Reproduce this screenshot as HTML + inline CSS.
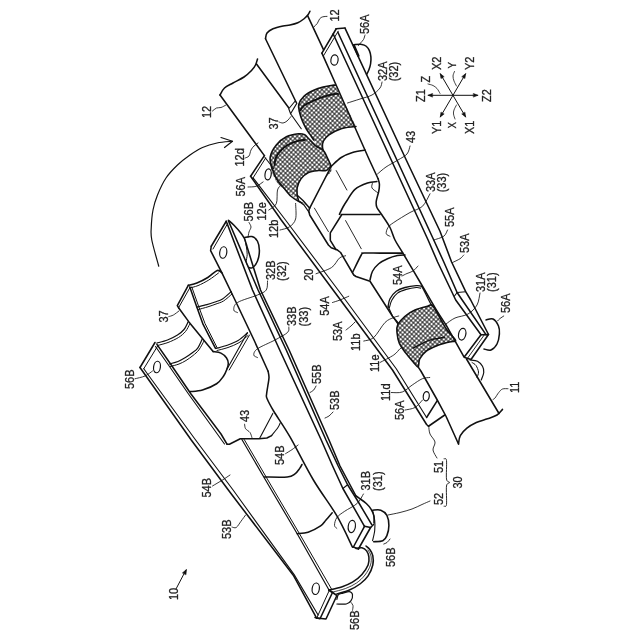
<!DOCTYPE html>
<html><head><meta charset="utf-8"><style>
html,body{margin:0;padding:0;background:#fff;width:640px;height:640px;overflow:hidden}
svg{display:block;filter:grayscale(1)}
text{font-family:"Liberation Sans",sans-serif;fill:#222;stroke:#222;stroke-width:0.3px}
</style></head><body>
<svg width="640" height="640" viewBox="0 0 640 640">
<defs>
<pattern id="mesh" patternUnits="userSpaceOnUse" width="3.2" height="3.2" patternTransform="rotate(42)">
<rect width="3.2" height="3.2" fill="#fff"/>
<path d="M0,1.6 H3.2 M1.6,0 V3.2" stroke="#000" stroke-width="0.8" fill="none"/>
</pattern>
</defs>
<g fill="none" stroke="#111" stroke-linejoin="round" stroke-linecap="round">
<path d="M158.75,266.25 C157.59,261.88 153.05,246.46 151.8,240 C150.55,233.54 151.05,232.5 151.25,227.5 C151.45,222.5 151.96,215.42 153,210 C154.04,204.58 155.33,200.33 157.5,195 C159.67,189.67 162.67,183 166,178 C169.33,173 173.5,168.83 177.5,165 C181.5,161.17 185.83,157.92 190,155 C194.17,152.08 198,149.5 202.5,147.5 C207,145.5 212,144.04 217,143 C222,141.96 229.92,141.54 232.5,141.25" stroke-width="1.2"/>
<polyline points="221,137.5 232.5,141.25 224.5,147.5" stroke-width="1.2"/>
<polyline points="428.1,95.3 477.8,95.3" stroke-width="1"/>
<polyline points="440.3,73.75 465.6,116.9" stroke-width="1"/>
<polyline points="465.6,73.75 440.3,116.9" stroke-width="1"/>
<polygon points="432.27,96.99 428.1,95.3 432.27,93.61" stroke-width="0.6" fill="#111"/>
<polygon points="473.63,93.61 477.8,95.3 473.63,96.99" stroke-width="0.6" fill="#111"/>
<polygon points="440.95,78.2 440.3,73.75 443.86,76.5" stroke-width="0.6" fill="#111"/>
<polygon points="464.94,112.45 465.6,116.9 462.03,114.16" stroke-width="0.6" fill="#111"/>
<polygon points="462.03,76.49 465.6,73.75 464.93,78.2" stroke-width="0.6" fill="#111"/>
<polygon points="443.86,114.15 440.3,116.9 440.95,112.45" stroke-width="0.6" fill="#111"/>
<path d="M428,84 C428.83,84.25 431.5,84.75 433,85.5 C434.5,86.25 435.83,87.18 437,88.5 C438.17,89.82 439.5,92.58 440,93.4" stroke-width="0.8"/>
<path d="M454.5,71.5 C454.25,72.25 453.08,74.42 453,76 C452.92,77.58 453.42,79.33 454,81 C454.58,82.67 456.08,85.17 456.5,86" stroke-width="0.8"/>
<path d="M456.5,105 C456.08,105.83 454.5,108.5 454,110 C453.5,111.5 453.33,112.5 453.5,114 C453.67,115.5 454.75,118.17 455,119" stroke-width="0.8"/>
<path d="M265.5,38.75 C265.75,37.79 265.75,34.66 267,33 C268.25,31.34 270.33,29.97 273,28.8 C275.67,27.63 280.17,26.63 283,26 C285.83,25.37 287.53,25.55 290,25 C292.47,24.45 295.45,23.74 297.8,22.7 C300.15,21.66 302.4,20.07 304.1,18.75 C305.8,17.43 307.03,16.04 308,14.8 C308.97,13.56 309.58,11.88 309.9,11.3" stroke-width="1.55"/>
<polyline points="265.5,38.75 296.25,102.5" stroke-width="1.55"/>
<polyline points="307.6,15.6 323.6,49.8" stroke-width="1.55"/>
<path d="M220,95 C220.75,93.83 222.33,90 224.5,88 C226.67,86 229.75,84.83 233,83 C236.25,81.17 240.92,79.08 244,77 C247.08,74.92 249.58,72.5 251.5,70.5 C253.42,68.5 254.5,66.92 255.5,65 C256.5,63.08 257.17,60 257.5,59" stroke-width="1.55"/>
<polyline points="220,95 264.4,155.6" stroke-width="1.55"/>
<polyline points="256.5,64 289.4,108.75" stroke-width="1.55"/>
<polygon points="288.75,108.75 295,101.25 296.9,103.1 290.6,113.75" stroke-width="1.1" fill="#fff"/>
<polyline points="290.6,113.75 301.25,128.75" stroke-width="1.1"/>
<polygon points="335.3,85.2 332.5,85.2 323.1,87 313.75,90.3 304.4,95.9 298.75,104.4 299.7,112.8 302.5,121.25 306.25,128.75 310,134.4 313.75,140 318,148 324,153 323.5,141 329,134.8 341.2,128.7 353.4,126.7 356,126.5 347,108 340,95" stroke-width="1.3" fill="url(#mesh)" stroke="none"/>
<path d="M335.3,85.2 C334.83,85.2 334.53,84.9 332.5,85.2 C330.47,85.5 326.23,86.15 323.1,87 C319.98,87.85 316.87,88.82 313.75,90.3 C310.63,91.78 306.9,93.55 304.4,95.9 C301.9,98.25 299.53,101.58 298.75,104.4 C297.97,107.22 299.07,109.99 299.7,112.8 C300.32,115.61 301.41,118.59 302.5,121.25 C303.59,123.91 305,126.56 306.25,128.75 C307.5,130.94 308.75,132.53 310,134.4 C311.25,136.28 313.12,139.07 313.75,140" stroke-width="1.6"/>
<path d="M299.7,111 C300.48,110.05 302.06,107.03 304.4,105.3 C306.74,103.57 310.63,102 313.75,100.6 C316.87,99.2 319.66,98 323.1,96.9 C326.54,95.8 331.9,94.48 334.4,94 C336.9,93.52 337.48,94 338.1,94" stroke-width="1.9"/>
<polygon points="353.4,126.7 341.2,128.7 329,134.8 323.5,141 322.5,147 324.5,155 328,162 331.25,166.25 341.25,157.5 352.5,152.5 365,150 369.4,160 356,127" stroke-width="1.3" fill="#fff" stroke="none"/>
<path d="M356,126.5 C355.57,126.53 355.87,126.33 353.4,126.7 C350.93,127.07 345.27,127.35 341.2,128.7 C337.13,130.05 331.95,132.75 329,134.8 C326.05,136.85 324.58,138.97 323.5,141 C322.42,143.03 322.33,144.67 322.5,147 C322.67,149.33 323.58,152.5 324.5,155 C325.42,157.5 327.42,160.83 328,162" stroke-width="1.5"/>
<path d="M270.2,157.1 C271.05,153.05 273.6,148.38 276.3,145 C279,141.62 282.68,138.67 286.4,136.8 C290.12,134.93 295.55,134.13 298.6,133.8 C301.65,133.47 302.97,133.93 304.7,134.8 C306.43,135.67 307.12,137.13 309,139 C310.88,140.87 313.67,144.17 316,146 C318.33,147.83 321.17,148.17 323,150 C324.83,151.83 325.62,154.33 327,157 C328.38,159.67 330.58,163.5 331.25,166 C331.92,168.5 331.71,170.33 331,172 C330.29,173.67 329.17,173.67 327,176 C324.83,178.33 320.5,182 318,186 C315.5,190 313.33,196.67 312,200 C310.67,203.33 311.79,205.58 310,206 C308.21,206.42 304.17,204.22 301.25,202.5 C298.33,200.78 295.31,197.85 292.5,195.7 C289.69,193.55 287.1,191.97 284.4,189.6 C281.7,187.23 278.5,184.88 276.3,181.5 C274.1,178.12 272.22,173.37 271.2,169.3 C270.18,165.23 269.35,161.15 270.2,157.1 Z" stroke-width="0" fill="url(#mesh)"/>
<path d="M303.5,202.5 C302.67,202.29 300.58,202.29 298.5,201.25 C296.42,200.21 293.5,198.54 291,196.25 C288.5,193.96 285.79,190.21 283.5,187.5 C281.21,184.79 279.12,183.12 277.25,180 C275.38,176.88 273.43,172.57 272.25,168.75 C271.07,164.93 269.52,161.06 270.2,157.1 C270.88,153.14 273.6,148.38 276.3,145 C279,141.62 282.68,138.67 286.4,136.8 C290.12,134.93 295.55,134.13 298.6,133.8 C301.65,133.47 302.97,133.93 304.7,134.8 C306.43,135.67 307.12,137.13 309,139 C310.88,140.87 313.67,144.17 316,146 C318.33,147.83 321.17,148.17 323,150 C324.83,151.83 325.62,154.29 327,157 C328.38,159.71 330.54,164.71 331.25,166.25" stroke-width="1.6"/>
<path d="M274.5,165 C274.75,163.75 274.98,159.85 276,157.5 C277.02,155.15 278.73,152.93 280.6,150.9 C282.47,148.87 284.7,146.85 287.2,145.3 C289.7,143.75 292.63,142.53 295.6,141.6 C298.57,140.67 303.43,140.02 305,139.7" stroke-width="1.9"/>
<polygon points="297.25,197.5 297.25,187.5 301,178.75 308.5,172.5 318.5,170.6 326,170.6 329.75,167.5 331.25,166.25 309.75,207.5 303.5,203 298.5,200" stroke-width="1.3" fill="#fff" stroke="none"/>
<path d="M298.5,200.5 C298.29,199.58 297.46,197.17 297.25,195 C297.04,192.83 296.62,190.21 297.25,187.5 C297.88,184.79 299.12,181.25 301,178.75 C302.88,176.25 305.58,173.86 308.5,172.5 C311.42,171.14 315.58,170.92 318.5,170.6 C321.42,170.28 324.12,171.12 326,170.6 C327.88,170.08 328.88,168.22 329.75,167.5 C330.62,166.78 331,166.46 331.25,166.25" stroke-width="1.5"/>
<polyline points="298.5,201 304,205 309.5,213" stroke-width="1.3"/>
<polyline points="297.5,195.5 303,200.5 309.5,208" stroke-width="1.4"/>
<path d="M331.25,166.25 C332.92,164.79 337.71,159.79 341.25,157.5 C344.79,155.21 348.54,153.75 352.5,152.5 C356.46,151.25 362.92,150.42 365,150" stroke-width="1.55"/>
<polyline points="331.25,166.25 309.7,208.1" stroke-width="1.55"/>
<polyline points="336.25,170.6 346.9,190" stroke-width="0.9"/>
<polyline points="314.4,208.1 328.4,231.6" stroke-width="0.9"/>
<path d="M339.4,214.4 C340,213.17 341.7,209.35 343,207 C344.3,204.65 345.2,203.23 347.2,200.3 C349.2,197.37 351.62,192.27 355,189.4 C358.38,186.53 363.85,184.4 367.5,183.1 C371.15,181.8 375.33,181.85 376.9,181.6" stroke-width="1.55"/>
<polyline points="341.25,214.4 380,214.4" stroke-width="1.55"/>
<polyline points="341.5,215 330.3,232.8 330.3,240.3 336,249.7" stroke-width="1.55"/>
<polyline points="345.6,220.6 361.25,248.75" stroke-width="0.9"/>
<path d="M352.5,272.5 C353.96,269.58 359.38,258.23 361.25,255 C363.12,251.77 360.62,253.42 363.75,253.1 C366.88,252.78 373.54,253.1 380,253.1 C386.46,253.1 398.75,253.1 402.5,253.1" stroke-width="1.55"/>
<path d="M370,280 C370.42,278.54 371.04,273.96 372.5,271.25 C373.96,268.54 376.25,265.83 378.75,263.75 C381.25,261.67 384.38,260.11 387.5,258.75 C390.62,257.39 394.58,256.23 397.5,255.6 C400.42,254.97 403.75,255.1 405,255" stroke-width="1.55"/>
<polyline points="309.75,207.5 308.8,211 309.7,215 328.4,245 331.25,247.8 336.9,249.7 340.6,252.5 353.75,275 356,276.5 370,281.25 392.5,316.25 398.75,323.75" stroke-width="1.55"/>
<polyline points="321.9,53.1 340,93.75 369.4,160 378.1,178.75" stroke-width="1.55"/>
<path d="M378.1,178.75 C378.32,179.62 379.29,181.92 379.4,184 C379.51,186.08 379.27,188.38 378.75,191.25 C378.23,194.12 376.56,198.54 376.25,201.25 C375.94,203.96 375.94,205.21 376.9,207.5 C377.86,209.79 379.82,211.67 382,215 C384.18,218.33 387.83,223.33 390,227.5 C392.17,231.67 392.92,235.83 395,240 C397.08,244.17 398.33,245.5 402.5,252.5 C406.67,259.5 414.42,272.52 420,282 C425.58,291.48 431.62,302.18 436,309.4 C440.38,316.62 444.58,322.65 446.3,325.3" stroke-width="1.55"/>
<path d="M372.5,183 C372.42,183.83 371.17,186.42 372,188 C372.83,189.58 376.58,191.75 377.5,192.5" stroke-width="0.9"/>
<polyline points="333.2,34 391.25,160 428.1,240 437.6,262 455.7,300 481,334.7" stroke-width="1.55"/>
<polyline points="336.25,28.75 396.9,160 433.75,240 443.8,262 457.1,292.5 462.2,300 486,334.6" stroke-width="1.55"/>
<polyline points="345,28.1 406.25,160 440,231.25 451.6,262 465.7,291.7 470.7,300 488.5,334.5" stroke-width="1.55"/>
<polyline points="457.1,292.5 465.7,291.7" stroke-width="1.1"/>
<polyline points="457.1,292.5 454.5,296" stroke-width="1.1"/>
<polygon points="336.25,28.75 345,28.1 337,32 333.2,34" stroke-width="0.01" fill="#fff" stroke="none"/>
<polyline points="336.25,28.75 345,28.1" stroke-width="1.55"/>
<polyline points="336.25,28.75 321.9,53.1" stroke-width="1.55"/>
<polyline points="338.2,31.2 323.6,55.6" stroke-width="1"/>
<ellipse cx="334.5" cy="60" rx="3.6" ry="5.2" transform="rotate(8 334.5 60)" stroke-width="1.2" fill="#fff"/>
<path d="M353.75,44.7 C355.11,44.65 359.82,44.14 361.9,44.4 C363.98,44.66 365,45.22 366.25,46.25 C367.5,47.28 368.62,48.83 369.4,50.6 C370.17,52.38 370.7,54.71 370.9,56.9 C371.1,59.09 370.92,61.65 370.6,63.75 C370.28,65.85 369.67,67.71 369,69.5 C368.33,71.29 367,73.67 366.6,74.5" stroke-width="1.55"/>
<polyline points="354,45.5 358.5,56" stroke-width="2.2"/>
<polyline points="264.4,155.6 250.6,176.25" stroke-width="1.55"/>
<polyline points="265.6,158.1 253.1,177.8" stroke-width="1"/>
<polyline points="250.6,176.25 281.25,220 333.1,290 392.5,370 426.6,424.5 428.5,426.25" stroke-width="1.55"/>
<polyline points="253.1,177.8 285.5,220 338.1,290 396.25,368.75 426.6,417.5" stroke-width="1.1"/>
<polyline points="265,157.5 273.75,168.75" stroke-width="1.1"/>
<ellipse cx="268.1" cy="174.4" rx="3.1" ry="5.6" transform="rotate(8 268.1 174.4)" stroke-width="1.2" fill="#fff"/>
<path d="M388.1,306.25 C388.42,305 388.64,301.25 390,298.75 C391.36,296.25 393.75,293.12 396.25,291.25 C398.75,289.38 401.67,288.44 405,287.5 C408.33,286.56 413.54,285.81 416.25,285.6 C418.96,285.39 420,285.52 421.25,286.25 C422.5,286.98 422.29,287.29 423.75,290 C425.21,292.71 428.54,299.79 430,302.5 C431.46,305.21 432.08,305.62 432.5,306.25" stroke-width="1.3"/>
<path d="M389.4,307.5 C389.82,306.25 390.55,302.4 391.9,300 C393.25,297.6 395.11,294.87 397.5,293.1 C399.89,291.33 403.12,290.33 406.25,289.4 C409.38,288.47 413.86,287.72 416.25,287.5 C418.64,287.28 419.88,288 420.6,288.1" stroke-width="1.1"/>
<polyline points="388.1,306.25 392.5,316.25 397.8,324" stroke-width="1.1"/>
<polyline points="418.1,366.9 421,371.25 437.25,400 446,416.25 458.5,444" stroke-width="1.55"/>
<path d="M458.5,444 C458.8,442.62 458.9,438.33 460.3,435.7 C461.7,433.07 464.23,430.4 466.9,428.2 C469.57,426 472.87,424.07 476.3,422.5 C479.73,420.93 484.05,420.05 487.5,418.8 C490.95,417.55 494.5,416.57 497,415 C499.5,413.43 501.58,410.33 502.5,409.4" stroke-width="1.55"/>
<polyline points="466.5,359 499,413.5" stroke-width="1.55"/>
<path d="M397.8,324.7 C399.13,321.99 402.13,318.7 405,316.25 C407.87,313.8 411.25,311.67 415,310 C418.75,308.33 424.58,306.98 427.5,306.25 C430.42,305.52 430.42,303.64 432.5,305.6 C434.58,307.56 437.58,313.93 440,318 C442.42,322.07 444.4,326.28 447,330 C449.6,333.72 455.2,338.32 455.6,340.3 C456,342.28 452.52,340.98 449.4,341.9 C446.28,342.82 440.8,344.24 436.9,345.8 C433,347.36 428.87,349.05 426,351.25 C423.13,353.45 421.02,356.39 419.7,359 C418.38,361.61 419.15,366.37 418.1,366.9 C417.05,367.43 415.48,364.55 413.4,362.2 C411.32,359.85 407.93,355.93 405.6,352.8 C403.27,349.67 400.83,346.78 399.4,343.4 C397.97,340.02 397.27,335.62 397,332.5 C396.73,329.38 396.47,327.41 397.8,324.7 Z" stroke-width="1.6" fill="url(#mesh)"/>
<path d="M413.4,348 C416,346.72 423.78,342.1 429,340.3 C434.22,338.5 442.08,337.72 444.7,337.2" stroke-width="1.4"/>
<polyline points="446.3,325.3 464.1,357.2 481,334.7 488.5,334.5 471,359.5 464.1,357.2" stroke-width="1.55"/>
<polyline points="484.5,334.6 467.5,358.3" stroke-width="0.9"/>
<ellipse cx="462.2" cy="334.2" rx="3.6" ry="5.9" transform="rotate(12 462.2 334.2)" stroke-width="1.2" fill="#fff"/>
<path d="M486,320 C487.17,319.83 490.92,318 493,319 C495.08,320 497.43,323.5 498.5,326 C499.57,328.5 499.65,331 499.4,334 C499.15,337 498.4,341.33 497,344 C495.6,346.67 493.17,349.17 491,350 C488.83,350.83 485.17,349.17 484,349" stroke-width="1.55"/>
<path d="M470,360 C471.25,360.21 475.42,360.21 477.5,361.25 C479.58,362.29 481.46,364.38 482.5,366.25 C483.54,368.12 483.96,370.21 483.75,372.5 C483.54,374.79 481.67,378.75 481.25,380" stroke-width="1.2"/>
<path d="M472,362.5 C472.67,363 474.92,363.92 476,365.5 C477.08,367.08 478.33,370 478.5,372 C478.67,374 477.25,376.58 477,377.5" stroke-width="1"/>
<ellipse cx="426.25" cy="396.25" rx="3" ry="4.6" transform="rotate(8 426.25 396.25)" stroke-width="1.2" fill="#fff"/>
<polyline points="426.6,417.5 437.25,400.6" stroke-width="1.55"/>
<polyline points="428.5,426.25 444.75,415" stroke-width="1.55"/>
<polyline points="226.25,221.25 211.25,246.25" stroke-width="1.55"/>
<polyline points="227.6,223.6 213,249" stroke-width="1"/>
<polyline points="226.25,221.25 252.5,290 279.7,350 321.25,440 332.6,466 342.9,488.5 364.5,526.3" stroke-width="1.55"/>
<polyline points="228.5,221 258.1,290 286.25,350 326,440 338.2,466 347.6,484.75 357,499.75 371.6,524.4" stroke-width="1.55"/>
<path d="M228.4,220.2 C229.33,221.05 231.97,223.2 234,225.3 C236.03,227.4 238.87,230.6 240.6,232.8 C242.33,235 243.42,236.47 244.4,238.5 C245.38,240.53 246.15,243.92 246.5,245" stroke-width="1.55"/>
<polyline points="246.5,245 260.5,290 289.1,350 329,440 340,466 356,496" stroke-width="1.55"/>
<path d="M356,496 C356.47,496.32 357.08,496.65 358.8,497.9 C360.52,499.15 364.27,501.63 366.3,503.5 C368.33,505.37 369.75,507.07 371,509.1 C372.25,511.13 373.3,513.38 373.8,515.7 C374.3,518.02 373.97,521.78 374,523" stroke-width="1.55"/>
<polyline points="342.9,488.5 347.6,484.75" stroke-width="1.1"/>
<ellipse cx="223.25" cy="252.5" rx="3.5" ry="5.8" transform="rotate(8 223.25 252.5)" stroke-width="1.2" fill="#fff"/>
<path d="M244.4,237.5 C245.65,237.35 249.72,235.97 251.9,236.6 C254.08,237.22 256.25,238.92 257.5,241.25 C258.75,243.58 259.4,247.31 259.4,250.6 C259.4,253.89 258.6,258.18 257.5,261 C256.4,263.82 254.22,266.42 252.8,267.5 C251.38,268.58 249.63,267.5 249,267.5" stroke-width="1.55"/>
<path d="M244.6,238.5 C244.88,239.75 245.82,243.35 246.25,246 C246.68,248.65 247.2,251.75 247.2,254.4 C247.2,257.05 246.12,259.97 246.25,261.9 C246.38,263.83 247.71,265.32 248,266" stroke-width="1"/>
<polyline points="155,342.5 140,367.5" stroke-width="1.55"/>
<polyline points="157.5,346.25 143.75,368.75" stroke-width="1"/>
<polyline points="140,367.5 191.25,440 230,492.3 293.3,575.2 316.6,618.1" stroke-width="1.55"/>
<polyline points="143.75,368.75 194.5,438.5 233.1,490 294,574.4 318.1,615" stroke-width="1.1"/>
<ellipse cx="157" cy="367" rx="3.4" ry="5.8" transform="rotate(8 157 367)" stroke-width="1.2" fill="#fff"/>
<ellipse cx="315.75" cy="588.75" rx="3.6" ry="5.8" transform="rotate(8 315.75 588.75)" stroke-width="1.2" fill="#fff"/>
<polyline points="315,617.5 320,618.75 332.5,592.5 328.75,590" stroke-width="1.55"/>
<polyline points="316.5,618.5 329,591" stroke-width="1"/>
<path d="M188.3,285.3 C189.73,284.92 193.65,284.3 196.9,283 C200.15,281.7 204.42,279.58 207.8,277.5 C211.18,275.42 214.85,271.28 217.2,270.5 C219.55,269.72 221.12,272.42 221.9,272.8" stroke-width="1.55"/>
<path d="M189.5,288 C190.92,287.6 194.78,286.93 198,285.6 C201.22,284.27 205.38,282.1 208.8,280 C212.22,277.9 216.88,274.17 218.5,273" stroke-width="1"/>
<polyline points="188.3,285.3 177.3,305.6 178.75,308" stroke-width="1.55"/>
<polyline points="190,287.5 179,307" stroke-width="1"/>
<polyline points="189.8,286.9 196.9,307.2 203.1,324.4 215.5,348.4" stroke-width="1.55"/>
<polyline points="191.8,287 198.5,306 205,323.5 217,347.5" stroke-width="1"/>
<path d="M196.9,307.2 C198.57,306.78 203.88,305.57 206.9,304.7 C209.92,303.83 212.4,302.95 215,302 C217.6,301.05 219.79,300.73 222.5,299 C225.21,297.27 229.79,292.83 231.25,291.6" stroke-width="1.2"/>
<path d="M198.5,309.5 C200.08,309.05 205.08,307.72 208,306.8 C210.92,305.88 213.42,304.97 216,304 C218.58,303.03 220.83,302.67 223.5,301 C226.17,299.33 230.58,295.17 232,294" stroke-width="1"/>
<polyline points="178.75,308 188.9,321.9 213.1,351.6" stroke-width="1.55"/>
<path d="M216.25,348.4 C218.07,347.88 223.56,346.6 227.2,345.3 C230.84,344 234.72,342.68 238.1,340.6 C241.48,338.52 245.93,334.1 247.5,332.8" stroke-width="1.2"/>
<path d="M217,350.5 C218.83,350 224.33,348.8 228,347.5 C231.67,346.2 235.67,344.7 239,342.7 C242.33,340.7 246.5,336.7 248,335.5" stroke-width="1"/>
<polyline points="247.5,332.8 227.2,368.75" stroke-width="1.1"/>
<polyline points="249.5,335 229.2,370" stroke-width="1"/>
<path d="M213.1,351.6 C214.4,351.85 218.68,352.07 220.9,353.1 C223.12,354.13 225.17,356.08 226.4,357.8 C227.63,359.52 228.25,361.42 228.3,363.4 C228.35,365.38 227.48,367.6 226.7,369.7 C225.92,371.8 225.28,373.66 223.6,376 C221.92,378.34 220.12,381.42 216.6,383.75 C213.08,386.08 206.93,388.69 202.5,390 C198.07,391.31 192.08,391.33 190,391.6" stroke-width="1.55"/>
<path d="M156.9,343.1 C158.67,342.58 164.07,341.35 167.5,340 C170.93,338.65 174.75,336.75 177.5,335 C180.25,333.25 182.23,331.68 184,329.5 C185.77,327.32 187.42,323.17 188.1,321.9" stroke-width="1.2"/>
<path d="M157.5,345.5 C159.25,345 164.5,343.83 168,342.5 C171.5,341.17 175.58,339.33 178.5,337.5 C181.42,335.67 183.67,333.67 185.5,331.5 C187.33,329.33 188.83,325.67 189.5,324.5" stroke-width="1"/>
<path d="M169.4,364 C170.83,363.58 175.4,362.53 178,361.5 C180.6,360.47 182.67,359.22 185,357.8 C187.33,356.38 189.92,354.57 192,353 C194.08,351.43 195.8,350.73 197.5,348.4 C199.2,346.07 201.42,340.57 202.2,339" stroke-width="1.2"/>
<path d="M170.5,366.5 C171.92,366.08 176.42,365 179,364 C181.58,363 183.67,361.92 186,360.5 C188.33,359.08 190.87,357.25 193,355.5 C195.13,353.75 196.97,352.42 198.8,350 C200.63,347.58 203.13,342.5 204,341" stroke-width="1"/>
<polyline points="156.9,344.4 171.25,365 191,394 221,434 227,444.2" stroke-width="1.55"/>
<polyline points="155.5,346.5 169.5,366.5 188.5,394 224.5,444" stroke-width="1.1"/>
<polyline points="241.9,439.5 271.4,490 297.2,533.75 329,590" stroke-width="1.2"/>
<polyline points="244.2,439.5 273.75,490 299.5,533.75 331.5,589" stroke-width="1"/>
<polyline points="227,444.2 229.4,444.2 240.3,438.75 259,438.75 266.9,438 271.6,435.6" stroke-width="1.55"/>
<path d="M271.6,435.6 C272.63,434.3 276.37,429.9 277.8,427.8 C279.23,425.7 279.8,423.8 280.2,423" stroke-width="1.1"/>
<polyline points="259.8,438 272.8,413.4" stroke-width="1.1"/>
<polyline points="211.25,246.25 210.6,250.6 221.9,272.8 235,300 254,340 268.1,371.25" stroke-width="1.55"/>
<path d="M268.1,371.25 C268.25,372.29 269.05,375.04 269,377.5 C268.95,379.96 268.2,383.25 267.8,386 C267.4,388.75 266.73,391.92 266.6,394 C266.47,396.08 265.81,395.62 267,398.5 C268.19,401.38 269.92,404.85 273.75,411.25 C277.58,417.65 283.39,425.44 290,436.9 C296.61,448.36 305.58,466.83 313.4,480 C321.22,493.17 330.38,504.7 336.9,515.9 C343.42,527.1 349.9,541.98 352.5,547.2" stroke-width="1.55"/>
<path d="M264.5,477 C268.28,477 282.12,477.52 287.2,477 C292.28,476.48 292.92,475.33 295,473.9 C297.08,472.47 298.53,469.97 299.7,468.4 C300.87,466.83 301.62,465.15 302,464.5" stroke-width="1.55"/>
<path d="M297.2,533.75 C299.02,533.49 304.2,533.51 308.1,532.2 C312,530.89 317.62,527.93 320.6,525.9 C323.58,523.87 324.07,522.18 326,520 C327.93,517.82 331.17,514 332.2,512.8" stroke-width="1.55"/>
<polyline points="364.5,526.3 353.4,547" stroke-width="1.55"/>
<polyline points="370.6,527.5 358.4,549" stroke-width="1.55"/>
<polyline points="364.5,526.3 370.6,527.5 373.5,524.5" stroke-width="1.55"/>
<polyline points="353.4,547 358.4,549" stroke-width="1.55"/>
<ellipse cx="351.8" cy="526.5" rx="3.6" ry="6.1" transform="rotate(8 351.8 526.5)" stroke-width="1.2" fill="#fff"/>
<path d="M372.6,510.2 C373.97,510.2 378.42,509.35 380.8,510.2 C383.18,511.05 385.55,512.75 386.9,515.3 C388.25,517.85 388.9,522.12 388.9,525.5 C388.9,528.88 387.92,533.07 386.9,535.6 C385.88,538.13 385,539.68 382.8,540.7 C380.6,541.72 375.22,541.53 373.7,541.7" stroke-width="1.55"/>
<path d="M372.6,510.5 C372.95,512.15 374.35,517.07 374.7,520.4 C375.05,523.73 375.05,527.12 374.7,530.5 C374.35,533.88 372.95,539 372.6,540.7" stroke-width="1.1"/>
<path d="M329,590 C331.1,589.48 337.68,588.2 341.6,586.9 C345.52,585.6 349.12,584.28 352.5,582.2 C355.88,580.12 359.3,577.27 361.9,574.4 C364.5,571.53 366.93,567.87 368.1,565 C369.27,562.13 369.15,559.55 368.9,557.2 C368.65,554.85 367.77,552.47 366.6,550.9 C365.43,549.33 363.67,548.2 361.9,547.8 C360.13,547.4 356.98,548.38 356,548.5" stroke-width="1.55"/>
<path d="M336.9,593.9 C338.98,593.25 345.5,591.69 349.4,590 C353.3,588.31 357.18,586.1 360.3,583.75 C363.42,581.4 366.02,579.02 368.1,575.9 C370.18,572.77 372.02,568.38 372.8,565 C373.58,561.62 373.32,558.2 372.8,555.6 C372.28,553 370.83,551 369.7,549.4 C368.57,547.8 366.62,546.57 366,546" stroke-width="1.55"/>
<path d="M333,592 C335.08,591.42 341.58,590 345.5,588.5 C349.42,587 353.25,585.25 356.5,583 C359.75,580.75 362.67,578 365,575 C367.33,572 369.5,568.17 370.5,565 C371.5,561.83 371.42,558.5 371,556 C370.58,553.5 368.5,551 368,550" stroke-width="0.8"/>
<polyline points="316.6,618.1 326,619 336.9,595.5 329,590" stroke-width="1.55"/>
<path d="M336.9,599.4 C337.15,598.62 337.37,595.75 338.4,594.7 C339.43,593.65 341.27,593.62 343.1,593.1 C344.93,592.58 347.83,591.33 349.4,591.6 C350.97,591.87 352.25,593.15 352.5,594.7 C352.75,596.25 351.94,599.35 350.9,600.9 C349.86,602.45 348.58,603.48 346.25,604 C343.92,604.52 338.46,604 336.9,604" stroke-width="1.2"/>
<path d="M314.2,26.6 C314.72,26.07 316.38,24.71 317.3,23.4 C318.22,22.09 318.78,19.85 319.7,18.75 C320.62,17.65 321.58,17.19 322.8,16.8 C324.02,16.41 326.3,16.47 327,16.4" stroke-width="0.85"/>
<path d="M365,35 C364.75,35.75 364.25,38.17 363.5,39.5 C362.75,40.83 361.33,42 360.5,43 C359.67,44 358.83,45.08 358.5,45.5" stroke-width="0.85"/>
<path d="M382,82 C381.67,83 381.67,85.83 380,88 C378.33,90.17 375.33,93.17 372,95 C368.67,96.83 364.08,97.67 360,99 C355.92,100.33 349.58,102.33 347.5,103" stroke-width="0.85"/>
<path d="M212.5,111 C213.17,110.5 215.08,108.58 216.5,108 C217.92,107.42 219.42,108 221,107.5 C222.58,107 225.17,105.42 226,105" stroke-width="0.85"/>
<path d="M279,122 C279.67,122.17 281.67,123.17 283,123 C284.33,122.83 285.67,122.08 287,121 C288.33,119.92 290.33,117.25 291,116.5" stroke-width="0.85"/>
<path d="M245,158 C245.67,157.67 248,157.33 249,156 C250,154.67 250.17,151.67 251,150 C251.83,148.33 252.83,147.17 254,146 C255.17,144.83 257.33,143.5 258,143" stroke-width="0.85"/>
<path d="M248,187 C249.38,186.88 253.73,187.1 256.25,186.25 C258.77,185.4 261.96,182.62 263.1,181.9" stroke-width="0.85"/>
<path d="M268.75,210 C270,208.96 274.79,207.08 276.25,203.75 C277.71,200.42 276.67,193.12 277.5,190 C278.33,186.88 280.62,185.83 281.25,185" stroke-width="0.85"/>
<path d="M249,222.5 C249.33,223.25 251,225.42 251,227 C251,228.58 249.5,230.25 249,232 C248.5,233.75 248.17,236.58 248,237.5" stroke-width="0.85"/>
<path d="M280,230 C281.57,229.48 286.8,228.73 289.4,226.9 C292,225.07 294.57,222.92 295.6,219 C296.63,215.08 295.6,206 295.6,203.4" stroke-width="0.85"/>
<path d="M410,146 C409.5,147.33 409,151.67 407,154 C405,156.33 401.5,157.83 398,160 C394.5,162.17 389.42,164.67 386,167 C382.58,169.33 378.92,172.83 377.5,174" stroke-width="0.85"/>
<path d="M430,193.75 C428.75,195.83 425.83,203.12 422.5,206.25 C419.17,209.38 414.79,209.79 410,212.5 C405.21,215.21 397.42,220 393.75,222.5 C390.08,225 389.25,225.62 388,227.5 C386.75,229.38 385.92,232.29 386.25,233.75 C386.58,235.21 389.38,235.83 390,236.25" stroke-width="0.85"/>
<path d="M447.5,230 C446.88,231.04 446.04,234.58 443.75,236.25 C441.46,237.92 435.42,239.38 433.75,240" stroke-width="0.85"/>
<path d="M463.75,255 C463.12,255.62 461.88,257.5 460,258.75 C458.12,260 453.75,261.88 452.5,262.5" stroke-width="0.85"/>
<path d="M480,293 C479.5,295 479,301.5 477,305 C475,308.5 471.67,311.83 468,314 C464.33,316.17 458.67,316.33 455,318 C451.33,319.67 447.5,323 446,324" stroke-width="0.85"/>
<path d="M503.75,316 C503.12,316.42 501.04,317.67 500,318.5 C498.96,319.33 497.92,320.58 497.5,321" stroke-width="0.85"/>
<path d="M402,276 C402.83,275.58 405.17,274.33 407,273.5 C408.83,272.67 411.17,272.25 413,271 C414.83,269.75 417.17,266.83 418,266" stroke-width="0.85"/>
<path d="M316,273.75 C318.6,272.71 327.7,270.11 331.6,267.5 C335.5,264.89 337.07,260.05 339.4,258.1 C341.73,256.15 344.57,256.18 345.6,255.8" stroke-width="0.85"/>
<path d="M332.5,302.5 C333.75,302.08 337.29,301.04 340,300 C342.71,298.96 347.29,296.88 348.75,296.25" stroke-width="0.85"/>
<path d="M346,330 C346.83,329.33 349.5,327.33 351,326 C352.5,324.67 354.33,322.67 355,322" stroke-width="0.85"/>
<path d="M363.75,341 C365.42,340.42 370.21,340.58 373.75,337.5 C377.29,334.42 381.67,325.83 385,322.5 C388.33,319.17 391.46,318.58 393.75,317.5 C396.04,316.42 397.92,316.25 398.75,316" stroke-width="0.85"/>
<path d="M380,362.5 C382.29,361.25 390.42,357.29 393.75,355 C397.08,352.71 398.54,350 400,348.75 C401.46,347.5 402.08,347.71 402.5,347.5" stroke-width="0.85"/>
<path d="M391.25,392.5 C393.08,392.42 398.75,393.25 402.25,392 C405.75,390.75 408.92,387.21 412.25,385 C415.58,382.79 419.33,380 422.25,378.75 C425.17,377.5 428.5,377.71 429.75,377.5" stroke-width="0.85"/>
<path d="M405,410 C406.67,409.58 412.08,409.17 415,407.5 C417.92,405.83 421.25,401.25 422.5,400" stroke-width="0.85"/>
<path d="M508,388.75 C507.08,388.79 504.04,388.38 502.5,389 C500.96,389.62 500,391 498.75,392.5 C497.5,394 495.96,396.83 495,398 C494.04,399.17 493.33,399.25 493,399.5" stroke-width="0.85"/>
<path d="M437,458 C436.33,456.67 433.33,452.67 433,450 C432.67,447.33 435.5,444.67 435,442 C434.5,439.33 431.04,436.58 430,434 C428.96,431.42 428.96,427.75 428.75,426.5" stroke-width="0.85"/>
<path d="M430,501 C428.67,501.58 425,503.17 422,504.5 C419,505.83 415.67,507.67 412,509 C408.33,510.33 404,511.5 400,512.5 C396,513.5 390,514.58 388,515" stroke-width="0.85"/>
<path d="M363.4,494 C362.37,495.57 360.32,500.52 357.2,503.4 C354.08,506.27 348.08,508.9 344.7,511.25 C341.32,513.6 338.6,515.16 336.9,517.5 C335.2,519.84 334.5,523.48 334.5,525.3 C334.5,527.12 336.5,527.88 336.9,528.4" stroke-width="0.85"/>
<path d="M390,539 C389.5,539.58 388.04,541.67 387,542.5 C385.96,543.33 384.29,543.75 383.75,544" stroke-width="0.85"/>
<path d="M351,602.5 C351.33,603.02 352.75,604.3 353,605.6 C353.25,606.9 352.58,609.52 352.5,610.3" stroke-width="0.85"/>
<path d="M212.5,486 C214.17,485 219.58,481.83 222.5,480 C225.42,478.17 228.75,475.83 230,475" stroke-width="0.85"/>
<path d="M232,527 C232.71,527.08 234.75,528.46 236.25,527.5 C237.75,526.54 239.44,523.33 241,521.25 C242.56,519.17 244.83,516.04 245.6,515" stroke-width="0.85"/>
<polyline points="176,589 186,570" stroke-width="1"/>
<polygon points="182.65,572.69 186.5,569.5 185.95,574.47" stroke-width="0.6" fill="#111"/>
<path d="M285.6,453.6 C286.65,452.95 289.82,451.13 291.9,449.7 C293.98,448.27 297.07,445.78 298.1,445" stroke-width="0.85"/>
<path d="M244.6,424.2 C244.77,424.96 244.7,427.37 245.6,428.75 C246.5,430.13 248.95,431.04 250,432.5 C251.05,433.96 251.58,436.67 251.9,437.5" stroke-width="0.85"/>
<path d="M135,378.75 C136.67,378.29 142.08,377.29 145,376 C147.92,374.71 151.25,371.83 152.5,371" stroke-width="0.85"/>
<path d="M168.75,316.6 C169.53,316.33 171.71,315.93 173.4,315 C175.09,314.07 177.98,311.67 178.9,311" stroke-width="0.85"/>
<path d="M267.5,281 C267.29,282.5 267.92,287.67 266.25,290 C264.58,292.33 262.29,292.92 257.5,295 C252.71,297.08 241.46,300 237.5,302.5 C233.54,305 233.75,308.33 233.75,310 C233.75,311.67 236.88,312.08 237.5,312.5" stroke-width="0.85"/>
<path d="M288.75,327 C288.54,327.92 289.79,330.33 287.5,332.5 C285.21,334.67 280,337.29 275,340 C270,342.71 261.04,346.25 257.5,348.75 C253.96,351.25 253.75,353.54 253.75,355 C253.75,356.46 256.88,357.08 257.5,357.5" stroke-width="0.85"/>
<path d="M316,386 C315.62,386.67 314.75,388.92 313.75,390 C312.75,391.08 310.62,392.08 310,392.5" stroke-width="0.85"/>
<path d="M333,412 C332.33,412.67 330.33,415 329,416 C327.67,417 325.67,417.67 325,418" stroke-width="0.85"/>
<path d="M444,459 C444.42,459.25 446.08,457.17 446.5,460.5 C446.92,463.83 446,475.33 446.5,479 C447,482.67 449.5,481.33 449.5,482.5 C449.5,483.67 447,482.33 446.5,486 C446,489.67 446.92,501.17 446.5,504.5 C446.08,507.83 444.42,505.75 444,506" stroke-width="0.9"/>
</g>
<g>
<text transform="translate(339 21.5) rotate(-90) scale(0.88 1)" font-size="12.5">12</text>
<text transform="translate(369 34) rotate(-90) scale(0.88 1)" font-size="12.5">56A</text>
<text transform="translate(386.6 81) rotate(-90) scale(0.88 1)" font-size="12.5">32A</text>
<text transform="translate(398 81.3) rotate(-90) scale(0.88 1)" font-size="12.5">(32)</text>
<text transform="translate(441 70) rotate(-90) scale(0.88 1)" font-size="12.5">X2</text>
<text transform="translate(456 68.5) rotate(-90) scale(0.88 1)" font-size="11">Y</text>
<text transform="translate(474 70) rotate(-90) scale(0.88 1)" font-size="12.5">Y2</text>
<text transform="translate(430 82.5) rotate(-90) scale(0.88 1)" font-size="12.5">Z</text>
<text transform="translate(425 102) rotate(-90) scale(0.88 1)" font-size="12.5">Z1</text>
<text transform="translate(491 102) rotate(-90) scale(0.88 1)" font-size="12.5">Z2</text>
<text transform="translate(441 134) rotate(-90) scale(0.88 1)" font-size="12.5">Y1</text>
<text transform="translate(456 128.5) rotate(-90) scale(0.88 1)" font-size="11">X</text>
<text transform="translate(474 134) rotate(-90) scale(0.88 1)" font-size="12.5">X1</text>
<text transform="translate(210.5 118) rotate(-90) scale(0.88 1)" font-size="12.5">12</text>
<text transform="translate(277.5 129.5) rotate(-90) scale(0.88 1)" font-size="12.5">37</text>
<text transform="translate(244 166.5) rotate(-90) scale(0.88 1)" font-size="12.5">12d</text>
<text transform="translate(245 196.5) rotate(-90) scale(0.88 1)" font-size="12.5">56A</text>
<text transform="translate(265.5 220.5) rotate(-90) scale(0.88 1)" font-size="12.5">12e</text>
<text transform="translate(252.5 221.5) rotate(-90) scale(0.88 1)" font-size="12.5">56B</text>
<text transform="translate(277.5 238) rotate(-90) scale(0.88 1)" font-size="12.5">12b</text>
<text transform="translate(414.5 143) rotate(-90) scale(0.88 1)" font-size="12.5">43</text>
<text transform="translate(435 192) rotate(-90) scale(0.88 1)" font-size="12.5">33A</text>
<text transform="translate(445.5 192.3) rotate(-90) scale(0.88 1)" font-size="12.5">(33)</text>
<text transform="translate(454 227) rotate(-90) scale(0.88 1)" font-size="12.5">55A</text>
<text transform="translate(469 253) rotate(-90) scale(0.88 1)" font-size="12.5">53A</text>
<text transform="translate(485 292) rotate(-90) scale(0.88 1)" font-size="12.5">31A</text>
<text transform="translate(495.5 292) rotate(-90) scale(0.88 1)" font-size="12.5">(31)</text>
<text transform="translate(510 313) rotate(-90) scale(0.88 1)" font-size="12.5">56A</text>
<text transform="translate(402 285) rotate(-90) scale(0.88 1)" font-size="12.5">54A</text>
<text transform="translate(312.8 280.8) rotate(-90) scale(0.88 1)" font-size="12.5">20</text>
<text transform="translate(329.2 315.8) rotate(-90) scale(0.88 1)" font-size="12.5">54A</text>
<text transform="translate(342 341) rotate(-90) scale(0.88 1)" font-size="12.5">53A</text>
<text transform="translate(360 351) rotate(-90) scale(0.88 1)" font-size="12.5">11b</text>
<text transform="translate(379 372) rotate(-90) scale(0.88 1)" font-size="12.5">11e</text>
<text transform="translate(390 401) rotate(-90) scale(0.88 1)" font-size="12.5">11d</text>
<text transform="translate(404 420) rotate(-90) scale(0.88 1)" font-size="12.5">56A</text>
<text transform="translate(518.5 393) rotate(-90) scale(0.88 1)" font-size="12.5">11</text>
<text transform="translate(443 473) rotate(-90) scale(0.88 1)" font-size="12.5">51</text>
<text transform="translate(462 488.5) rotate(-90) scale(0.88 1)" font-size="12.5">30</text>
<text transform="translate(443 505) rotate(-90) scale(0.88 1)" font-size="12.5">52</text>
<text transform="translate(369.8 490.5) rotate(-90) scale(0.88 1)" font-size="12.5">31B</text>
<text transform="translate(382 491) rotate(-90) scale(0.88 1)" font-size="12.5">(31)</text>
<text transform="translate(395 567) rotate(-90) scale(0.88 1)" font-size="12.5">56B</text>
<text transform="translate(359 630) rotate(-90) scale(0.88 1)" font-size="12.5">56B</text>
<text transform="translate(211 497.5) rotate(-90) scale(0.88 1)" font-size="12.5">54B</text>
<text transform="translate(231 539) rotate(-90) scale(0.88 1)" font-size="12.5">53B</text>
<text transform="translate(177.5 600) rotate(-90) scale(0.88 1)" font-size="12.5">10</text>
<text transform="translate(284 465) rotate(-90) scale(0.88 1)" font-size="12.5">54B</text>
<text transform="translate(249 422) rotate(-90) scale(0.88 1)" font-size="12.5">43</text>
<text transform="translate(134 389) rotate(-90) scale(0.88 1)" font-size="12.5">56B</text>
<text transform="translate(167.5 322.5) rotate(-90) scale(0.88 1)" font-size="12.5">37</text>
<text transform="translate(275 280) rotate(-90) scale(0.88 1)" font-size="12.5">32B</text>
<text transform="translate(286 281) rotate(-90) scale(0.88 1)" font-size="12.5">(32)</text>
<text transform="translate(295.5 326) rotate(-90) scale(0.88 1)" font-size="12.5">33B</text>
<text transform="translate(307.5 326.5) rotate(-90) scale(0.88 1)" font-size="12.5">(33)</text>
<text transform="translate(321.2 384) rotate(-90) scale(0.88 1)" font-size="12.5">55B</text>
<text transform="translate(338.5 410) rotate(-90) scale(0.88 1)" font-size="12.5">53B</text>
</g>
</svg>
</body></html>
